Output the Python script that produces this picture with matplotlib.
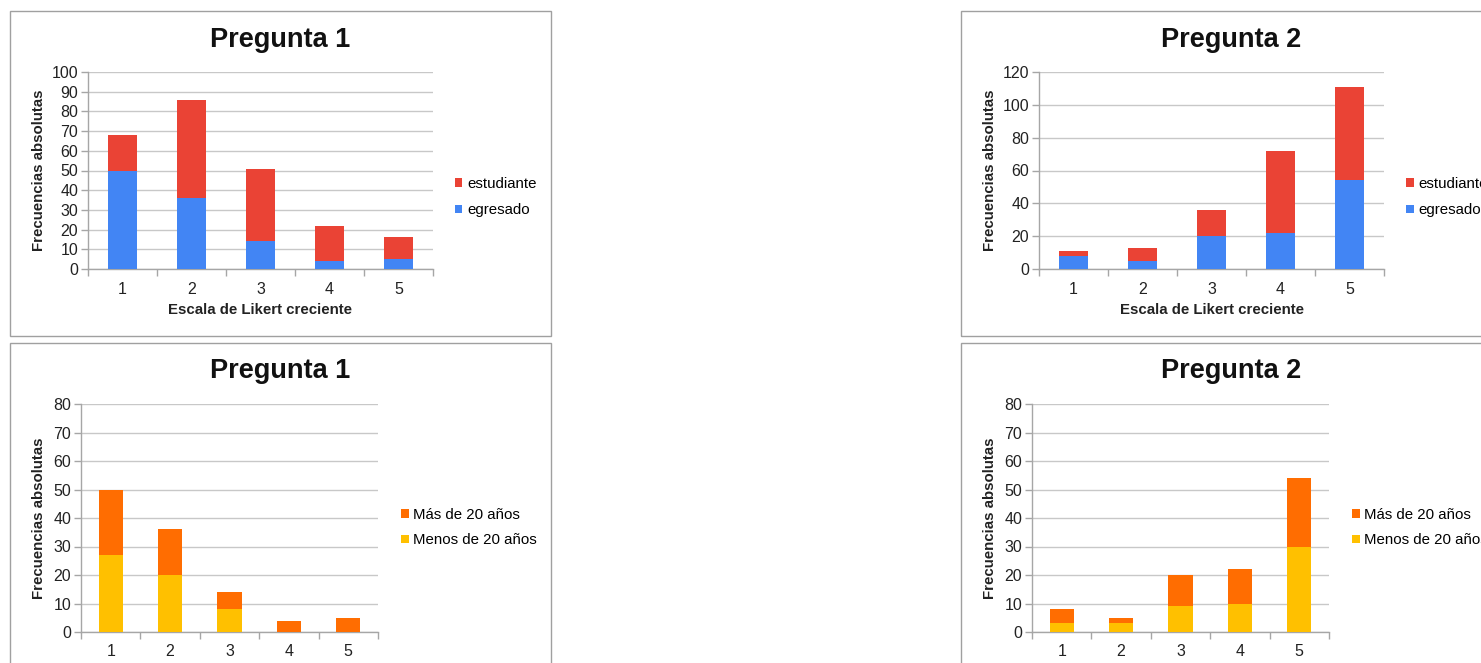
import matplotlib
matplotlib.use("Agg")
import matplotlib.pyplot as plt
from matplotlib.patches import Rectangle
import numpy as np

plt.rcParams['font.family'] = ['Liberation Sans', 'DejaVu Sans']

# ---- data ----
categories = ["1", "2", "3", "4", "5"]

p1_egresado = [50, 36, 14, 4, 5]
p1_estudiante = [18, 50, 37, 18, 11]
p2_egresado = [8, 5, 20, 22, 54]
p2_estudiante = [3, 8, 16, 50, 57]

p1_menos20 = [27, 20, 8, 0, 0]
p1_mas20 = [23, 16, 6, 4, 5]
p2_menos20 = [3, 3, 9, 10, 30]
p2_mas20 = [5, 2, 11, 12, 24]

titles = ["Pregunta 1", "Pregunta 2"]
ylabel = "Frecuencias absolutas"
xlabel = "Escala de Likert creciente"
labels_type = ["egresado", "estudiante"]
labels_age = ["Menos de 20 años", "Más de 20 años"]

C_BLUE = "#4285F4"
C_RED = "#EA4335"
C_YELLOW = "#FFC000"
C_ORANGE = "#FF6D01"
GRID = "#C8C8C8"
AXC = "#A6A6A6"

W, H = 1481, 663
fig = plt.figure(figsize=(W / 100, H / 100), dpi=100)
fig.patch.set_facecolor("white")


def px_axes(x0, y0, x1, y1):
    return fig.add_axes([x0 / W, 1 - y1 / H, (x1 - x0) / W, (y1 - y0) / H])


def frame(x0, y0, x1, y1):
    fig.add_artist(Rectangle((x0 / W, 1 - y1 / H), (x1 - x0) / W, (y1 - y0) / H,
                             transform=fig.transFigure, fill=False,
                             edgecolor="#A0A0A0", lw=1.0))


def panel(box, bottom, top, colors, labels, ymax, ystep, title, title_xy,
          ylab_x, legend_xy, spacing, show_xlabel):
    ax = px_axes(*box)
    x = np.arange(len(categories))
    b1 = ax.bar(x, bottom, width=0.41, color=colors[0], zorder=3, label=labels[0])
    b2 = ax.bar(x, top, width=0.41, bottom=bottom, color=colors[1], zorder=3,
                label=labels[1])
    ax.set_xlim(-0.5, len(categories) - 0.5)
    ax.set_ylim(0, ymax)
    ax.set_yticks(np.arange(0, ymax + 1, ystep))
    ax.yaxis.grid(True, color=GRID, lw=1.0, zorder=0)
    ax.set_axisbelow(True)
    for s in ["top", "right"]:
        ax.spines[s].set_visible(False)
    for s in ["left", "bottom"]:
        ax.spines[s].set_color(AXC)
        ax.spines[s].set_linewidth(1.0)
    ax.set_xticks(x)
    ax.set_xticklabels(categories)
    ax.set_xticks(np.arange(-0.5, len(categories), 1.0), minor=True)
    ax.tick_params(axis="x", which="major", length=0, pad=9, labelsize=11.5,
                   colors="#222222")
    ax.tick_params(axis="x", which="minor", length=5, color=AXC, width=1)
    ax.tick_params(axis="y", length=5, color=AXC, width=1, pad=2, labelsize=11.5,
                   labelcolor="#222222")
    fig.text(title_xy[0] / W, 1 - title_xy[1] / H, title, ha="center", va="center",
             fontsize=19.5, fontweight="bold", color="#111111")
    fig.text(ylab_x / W, 1 - ((box[1] + box[3]) / 2) / H, ylabel, rotation=90,
             ha="center", va="center", fontsize=10.8, fontweight="bold",
             color="#222222")
    if show_xlabel:
        fig.text(((box[0] + box[2]) / 2) / W, 1 - 310 / H, xlabel, ha="center",
                 va="center", fontsize=10.8, fontweight="bold", color="#222222")
    ax.legend([b2, b1], [labels[1], labels[0]], loc="upper left",
              bbox_to_anchor=(legend_xy[0] / W, 1 - legend_xy[1] / H),
              bbox_transform=fig.transFigure, frameon=False, borderpad=0,
              borderaxespad=0, handlelength=0.5, handleheight=0.5,
              handletextpad=0.3, labelspacing=spacing, fontsize=10.8)
    return ax


# panel frames
frame(10, 11, 551, 336)
frame(961, 11, 1530, 336)
frame(10, 343, 551, 720)
frame(961, 343, 1530, 720)

panel((88, 72, 433, 269), p1_egresado, p1_estudiante, (C_BLUE, C_RED), labels_type,
      100, 10, titles[0], (280, 40), 39, (455, 177), 0.81, True)
panel((1039, 72, 1384, 269), p2_egresado, p2_estudiante, (C_BLUE, C_RED), labels_type,
      120, 20, titles[1], (1231, 40), 990, (1406, 177), 0.81, True)
panel((81, 404, 378, 632), p1_menos20, p1_mas20, (C_YELLOW, C_ORANGE), labels_age,
      80, 10, titles[0], (280, 371), 39, (401, 508), 0.74, False)
panel((1032, 404, 1329, 632), p2_menos20, p2_mas20, (C_YELLOW, C_ORANGE), labels_age,
      80, 10, titles[1], (1231, 371), 990, (1352, 508), 0.74, False)

fig.savefig("out.png", dpi=100, facecolor="white")
